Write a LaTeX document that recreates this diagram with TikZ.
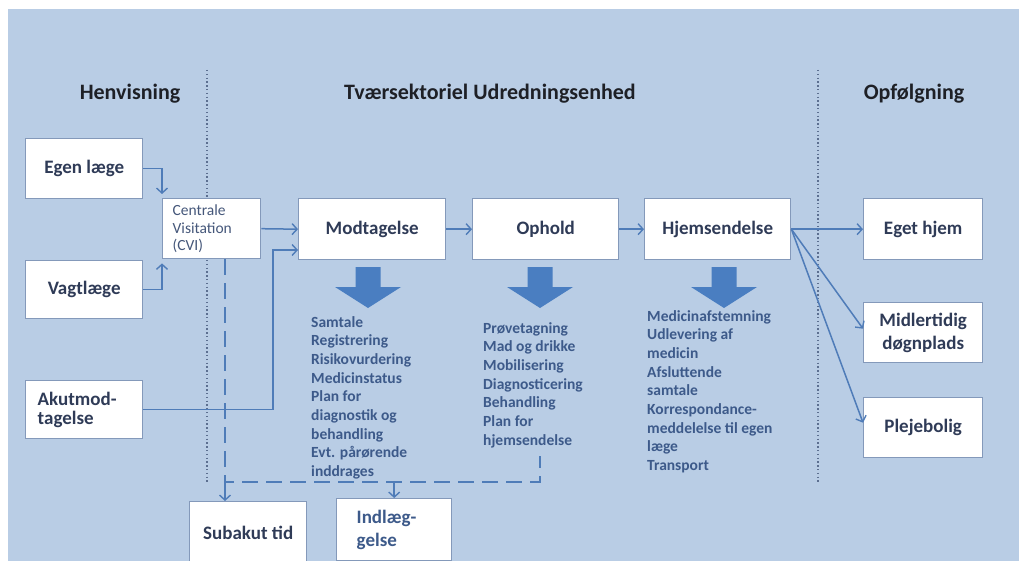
\documentclass[tikz,border=0pt]{standalone}
\usepackage{fontspec}
\setmainfont{Carlito}
\usetikzlibrary{arrows.meta}
\definecolor{bgblue}{HTML}{B9CDE5}
\definecolor{boxline}{HTML}{8499BA}
\definecolor{titlec}{HTML}{2F3B57}
\definecolor{listc}{HTML}{3D5A8A}
\definecolor{connc}{HTML}{4F7CB8}
\definecolor{bigarr}{HTML}{4A7EC1}
\definecolor{dotc}{HTML}{5C6F90}
\definecolor{headc}{HTML}{1E2026}
\definecolor{cvic}{HTML}{45577A}
\begin{document}
\begin{tikzpicture}[x=1pt,y=-1pt,
  box/.style={draw=boxline, line width=1.4pt, fill=white, anchor=north west, inner sep=0pt,
    font=\fontsize{19}{21}\selectfont\bfseries, text=titlec, align=center},
  head/.style={anchor=base, inner sep=0pt, text=headc, font=\fontsize{22}{24}\selectfont\bfseries},
  listtext/.style={anchor=north west, inner sep=0pt, align=left, text=listc,
    font=\fontsize{15.5}{18.7}\selectfont\bfseries},
  conn/.style={draw=connc, line width=1.5pt, -{Straight Barb[length=5pt,width=11pt,line width=1.4pt]}},
  dashline/.style={draw=connc, line width=1.8pt, dash pattern=on 16pt off 8pt},
  dotline/.style={draw=dotc, line width=1.3pt, dash pattern=on 1.4pt off 2.4pt},
  bigdown/.pic={\fill[bigarr] (-12.5,0) -- (12.5,0) -- (12.5,20) -- (33,20) -- (0,41) -- (-33,20) -- (-12.5,20) -- cycle;}
]
\useasboundingbox (0,0) rectangle (1019,561);
\fill[bgblue] (8,9) rectangle (1019,561);

% headers
\node[head] (h1) at (130,100) {Henvisning};
\node[head] (h2) at (490,100) {Tværsektoriel Udredningsenhed};
\node[head] (h3) at (914,100) {Opfølgning};

% dotted separators
\coordinate (s1t) at (207,70); \coordinate (s1b) at (207,483);
\coordinate (s2t) at (818,70); \coordinate (s2b) at (818,483);
\draw[dotline] (s1t) -- (s1b);
\draw[dotline] (s2t) -- (s2b);

% boxes
\node[box, minimum width=117pt, minimum height=60pt] (egen) at (25,138) {Egen læge};
\node[box, minimum width=117pt, minimum height=58pt] (vagt) at (25,260) {Vagtlæge};
\node[box, minimum width=117pt, minimum height=58pt, align=left, text width=93pt, inner xsep=12pt,
  font=\fontsize{19}{19}\selectfont\bfseries] (akut) at (25,380) {Akutmod-\\tagelse};
\node[box, minimum width=98pt, minimum height=60pt, align=left, text width=78pt, inner xsep=10pt,
  text=cvic, font=\fontsize{15.5}{17.5}\selectfont] (cvi) at (162,198) {Centrale\\Visitation\\(CVI)};
\node[box, minimum width=147pt, minimum height=61pt] (mod) at (298,198) {Modtagelse};
\node[box, minimum width=146pt, minimum height=61pt] (oph) at (472,198) {Ophold};
\node[box, minimum width=146pt, minimum height=61pt] (hjem) at (644,198) {Hjemsendelse};
\node[box, minimum width=119pt, minimum height=61pt] (eget) at (863,198) {Eget hjem};
\node[box, minimum width=119pt, minimum height=60pt, font=\fontsize{19}{23}\selectfont\bfseries] (midl) at (863,302) {Midlertidig\\døgnplads};
\node[box, minimum width=119pt, minimum height=60pt] (pleje) at (863,397) {Plejebolig};
\node[box, minimum width=117pt, minimum height=62pt] (sub) at (189,501) {Subakut tid};
\node[box, minimum width=115pt, minimum height=62pt, align=left, text width=75pt, inner xsep=20pt,
  text=listc, font=\fontsize{19}{23}\selectfont\bfseries, yshift=3pt] (ind) at (336,501) {Indlæg-\\gelse};

% big down arrows
\pic at (368,267) {bigdown};
\pic at (540,267) {bigdown};
\pic at (724,267) {bigdown};

% lists
\node[listtext] (l1) at (311,316) {Samtale\\Registrering\\Risikovurdering\\Medicinstatus\\Plan for\\diagnostik og\\behandling\\Evt. pårørende\\inddrages};
\node[listtext] (l2) at (483,322) {Prøvetagning\\Mad og drikke\\Mobilisering\\Diagnosticering\\Behandling\\Plan for\\hjemsendelse};
\node[listtext] (l3) at (647,310) {Medicinafstemning\\Udlevering af\\medicin\\Afsluttende\\samtale\\Korrespondance-\\meddelelse til egen\\læge\\Transport};

% connectors
\draw[conn, shorten >=4pt] (egen.east) -| (cvi.north west);
\draw[conn, shorten >=4pt] (vagt.east) -| (cvi.south west);
\draw[conn] (cvi.east) -- (mod.west);
\coordinate (akbend) at (273,250);
\draw[conn] (akut.east) -| (akbend) -- (akbend -| mod.west);
\draw[conn] (mod.east) -- (oph.west);
\draw[conn] (oph.east) -- (hjem.west);
\draw[conn] (hjem.east) -- (eget.west);
\draw[conn] (hjem.east) -- ([yshift=4pt]midl.west);
\draw[conn] (hjem.east) -- ([yshift=5pt]pleje.west);

% dashed return lines
\coordinate (d1) at (225,482);
\coordinate (d2) at (540,482);
\coordinate (d3) at (540,456);
\draw[dashline] (d1 |- cvi.south) -- (d1) -- (d2) -- (d3);
\draw[conn] (d1) -- (d1 |- sub.north);
\draw[conn] (ind.north |- d1) -- (ind.north);
\end{tikzpicture}
\end{document}
